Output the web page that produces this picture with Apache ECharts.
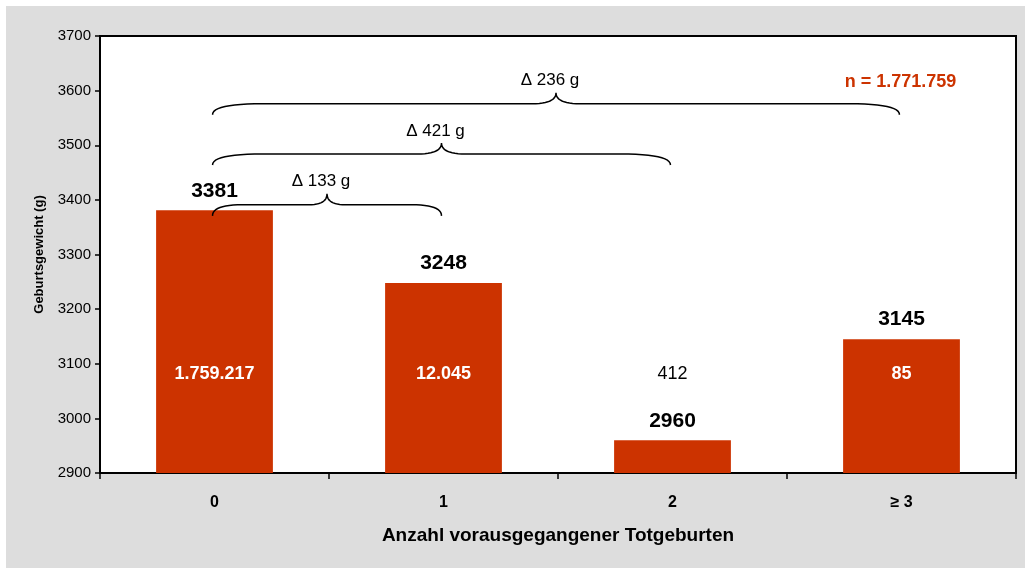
<!DOCTYPE html>
<html>
<head>
<meta charset="utf-8">
<script src="https://cdn.jsdelivr.net/npm/echarts@6/dist/echarts.min.js"></script>
<style>
  html, body { margin: 0; padding: 0; background: #ffffff; }
  #chart { position: absolute; left: 6px; top: 6px; width: 1019px; height: 562px; background: #dddddd; }
</style>
</head>
<body>
<div id="chart"></div>
<script>
// Daten
const categories = ['0', '1', '2', '≥ 3']
const weights = [3381, 3248, 2960, 3145]
const counts = ['1.759.217', '12.045', '412', '85']
const countLevel = 3081
const yTicks = [2900, 3000, 3100, 3200, 3300, 3400, 3500, 3600, 3700]

// Klammern: von Kategorie -> bis Kategorie, Höhe (g), Beschriftung
const braceFrom = [0, 0, 0]
const braceTo = [1, 2, 3]
const braceLevel = [3391, 3484, 3576]
const braceText = ['Δ 133 g', 'Δ 421 g', 'Δ 236 g']
const totalText = 'n = 1.771.759'
const totalLevel = 3616

const BAR_COLOR = '#cc3300'
const FONT = 'Liberation Sans, Arial, sans-serif'

const chart = echarts.init(document.getElementById('chart'))

const option = {
  animation: false,
  textStyle: { fontFamily: FONT },
  grid: {
    left: 94,
    right: 9,
    top: 30,
    bottom: 95,
    show: true,
    backgroundColor: '#ffffff',
    borderColor: '#000000',
    borderWidth: 2
  },
  xAxis: {
    type: 'category',
    data: categories,
    name: 'Anzahl vorausgegangener Totgeburten',
    nameLocation: 'middle',
    nameGap: 53,
    nameTextStyle: { color: '#000', fontSize: 19, fontWeight: 'bold', fontFamily: FONT },
    axisLine: { lineStyle: { color: '#000', width: 2 } },
    axisTick: { show: true, alignWithLabel: false, length: 6, lineStyle: { color: '#000', width: 1.5 } },
    axisLabel: { color: '#000', fontSize: 16, fontWeight: 'bold', margin: 22, fontFamily: FONT },
    splitLine: { show: false }
  },
  yAxis: {
    type: 'value',
    min: 2900,
    max: 3700,
    interval: 100,
    name: 'Geburtsgewicht (g)',
    nameLocation: 'middle',
    nameGap: 54,
    nameTextStyle: { color: '#000', fontSize: 13, fontWeight: 'bold', fontFamily: FONT },
    axisLine: { show: true, lineStyle: { color: '#000', width: 2 } },
    axisTick: { show: true, length: 5, lineStyle: { color: '#000', width: 1.5 } },
    axisLabel: {
      color: '#000', fontSize: 15, margin: 9, fontFamily: FONT,
      formatter: v => (yTicks.includes(v) ? String(v) : '')
    },
    splitLine: { show: false }
  },
  series: [
    {
      type: 'bar',
      data: weights,
      barWidth: '51%',
      itemStyle: { color: BAR_COLOR },
      label: {
        show: true,
        position: 'top',
        distance: 9,
        color: '#000',
        fontSize: 21,
        fontWeight: 'bold',
        fontFamily: FONT
      }
    },
    {
      type: 'scatter',
      symbolSize: 0,
      itemStyle: { color: 'rgba(0,0,0,0)', opacity: 1 },
      data: counts.map((c, i) => ({
        value: [i, countLevel],
        label: {
          show: true,
          position: 'inside',
          formatter: c,
          opacity: 1,
          textBorderWidth: 0,
          color: weights[i] > countLevel + 40 ? '#ffffff' : '#000000',
          fontWeight: weights[i] > countLevel + 40 ? 'bold' : 'normal',
          fontSize: 18,
          fontFamily: FONT
        }
      })),
      z: 5
    }
  ]
}

chart.setOption(option)

// Klammer als Punktfolge (quadratische Kurven abgetastet)
function quad(pts, a, c, b) {
  for (let k = 1; k <= 12; k++) {
    const t = k / 12
    const u = 1 - t
    pts.push([
      u * u * a[0] + 2 * u * t * c[0] + t * t * b[0],
      u * u * a[1] + 2 * u * t * c[1] + t * t * b[1]
    ])
  }
}

function bracePoints(x0, x1, y) {
  const h = 11
  const xm = (x0 + x1) / 2
  const e = Math.min(50, (x1 - x0) * 0.13)
  const t = Math.min(24, (x1 - x0) * 0.08)
  const pts = [[x0, y + h]]
  quad(pts, [x0, y + h], [x0, y], [x0 + e, y])
  pts.push([xm - t, y])
  quad(pts, [xm - t, y], [xm, y], [xm, y - h])
  quad(pts, [xm, y - h], [xm, y], [xm + t, y])
  pts.push([x1 - e, y])
  quad(pts, [x1 - e, y], [x1, y], [x1, y + h])
  return pts
}

const graphics = []
braceFrom.forEach((from, i) => {
  const p0 = chart.convertToPixel({ gridIndex: 0 }, [from, braceLevel[i]])
  const p1 = chart.convertToPixel({ gridIndex: 0 }, [braceTo[i], braceLevel[i]])
  const x0 = p0[0] - 2
  const x1 = p1[0] - 2
  const y = p0[1]
  graphics.push({
    type: 'polyline',
    shape: { points: bracePoints(x0, x1, y) },
    style: { fill: null, stroke: '#000', lineWidth: 1.5 },
    z: 10
  })
  graphics.push({
    type: 'text',
    x: (x0 + x1) / 2 - 6,
    y: y - 23,
    style: {
      text: braceText[i],
      fill: '#000',
      fontSize: 17,
      fontFamily: FONT,
      align: 'center',
      verticalAlign: 'middle'
    },
    z: 10
  })
})

const pn = chart.convertToPixel({ gridIndex: 0 }, [3, totalLevel])
graphics.push({
  type: 'text',
  x: pn[0] - 1,
  y: pn[1],
  style: {
    text: totalText,
    fill: BAR_COLOR,
    fontSize: 18,
    fontWeight: 'bold',
    fontFamily: FONT,
    align: 'center',
    verticalAlign: 'middle'
  },
  z: 10
})

chart.setOption({ graphic: graphics })
</script>
</body>
</html>
